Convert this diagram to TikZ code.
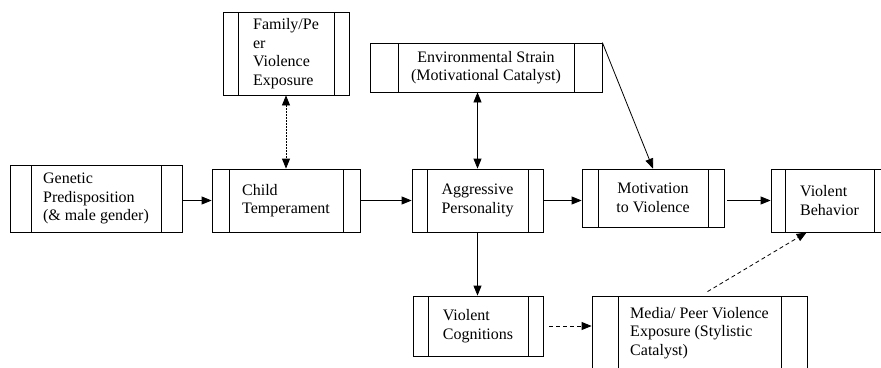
\documentclass[tikz,border=0pt]{standalone}
\usepackage{fontspec}
\setmainfont{Liberation Serif}
\usetikzlibrary{positioning, arrows.meta}

% box with a bar on either side
\tikzset{
  procbox/.style={draw, line width=0.8pt, inner sep=0pt,
    font=\fontsize{16}{18.6}\selectfont,
    path picture={\draw[line width=0.8pt]
      ([xshift=#1]path picture bounding box.north west) -- ([xshift=#1]path picture bounding box.south west)
      ([xshift=-#1]path picture bounding box.north east) -- ([xshift=-#1]path picture bounding box.south east);}},
  procbox/.default=16pt,
  arr/.style={line width=0.8pt, -{Triangle[length=10pt,width=8pt]}},
  darr/.style={line width=0.8pt, {Triangle[length=10pt,width=8pt]}-{Triangle[length=10pt,width=8pt]}}
}

\begin{document}
\begin{tikzpicture}[x=1pt, y=-1pt]
    \useasboundingbox (0,0) rectangle (881,367);

    % main row
    \node[procbox=21pt, minimum width=172pt, minimum height=67pt, align=left] (gen) at (96,198.5)
        {Genetic\\Predisposition\\(\& male gender)};
    \node[procbox=17pt, minimum width=148pt, minimum height=63pt, align=left] (child) at (286,200.5)
        {Child\\Temperament};
    \node[procbox=15pt, minimum width=131pt, minimum height=63pt, align=center] (aggr) at (477.5,200.5)
        {Aggressive\\Personality};
    \node[procbox=16pt, minimum width=142pt, minimum height=58pt, align=center] (motiv) at (653,198)
        {Motivation\\to Violence};
    \node[procbox=14pt, minimum width=117pt, minimum height=63pt, align=left] (behav) at (829.5,200.5)
        {Violent\\Behavior};

    % influences above and below
    \node[procbox=15pt, minimum width=126pt, minimum height=83pt, align=left] (family) at (286,53.5)
        {Family/Pe\\er\\Violence\\Exposure};
    \node[procbox=28pt, minimum width=232pt, minimum height=49pt, align=center] (strain) at (486,67.5)
        {Environmental Strain\\(Motivational Catalyst)};
    \node[procbox=15pt, minimum width=130pt, minimum height=60pt, align=left] (cogn) at (478,326)
        {Violent\\Cognitions};
    \node[procbox=26pt, minimum width=215pt, minimum height=74pt, align=left] (media) at (699.5,333)
        {Media/ Peer Violence\\Exposure (Stylistic\\Catalyst)};

    % arrows
    \draw[arr] (gen.east |- child.west) -- (child.west);
    \draw[arr] (child.east) -- (aggr.west);
    \draw[arr] (aggr.east) -- (aggr.east -| motiv.west);
    \draw[arr] ([xshift=3pt]motiv.east |- behav.west) -- (behav.west);
    \draw[arr] (strain.north east) -- (motiv.north);
    \draw[darr] (strain.south -| aggr.north) -- (aggr.north);
    \draw[darr, dash pattern=on 2pt off 1pt] (family.south) -- (child.north);
    \draw[arr] (aggr.south) -- (aggr.south |- cogn.north);
    \draw[arr, dash pattern=on 4pt off 3pt] ([xshift=6pt]cogn.east) -- (cogn.east -| media.west);
    \draw[arr, dash pattern=on 4pt off 3pt] ([xshift=8pt,yshift=4pt]media.north) -- ([xshift=36pt]behav.south west);
\end{tikzpicture}
\end{document}
